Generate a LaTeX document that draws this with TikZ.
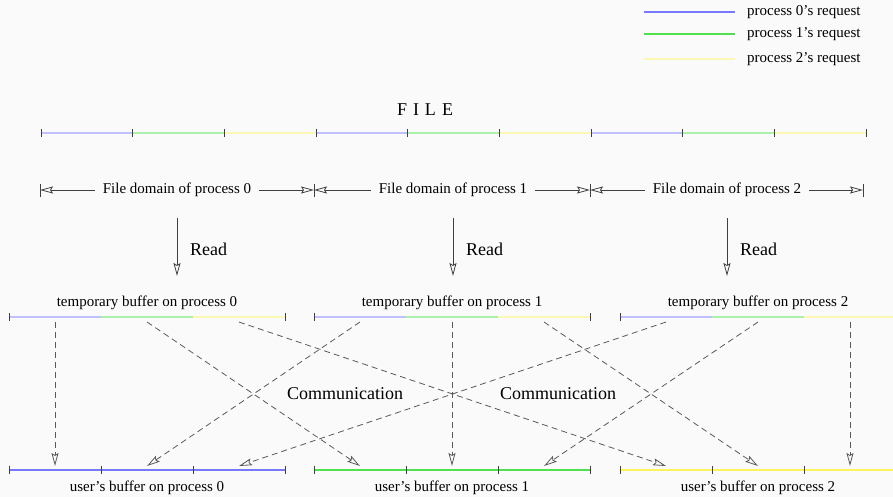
\documentclass[tikz,border=0pt]{standalone}
\usepackage{fontspec}
\setmainfont{Liberation Serif}
\usetikzlibrary{arrows.meta, positioning, calc}
\definecolor{reqzero}{RGB}{120,120,255}
\definecolor{reqone}{RGB}{80,225,80}
\definecolor{reqtwo}{RGB}{250,245,90}
\definecolor{paper}{RGB}{250,250,250}
\tikzstyle{txt} = [font=\fontsize{15}{18}\selectfont, inner sep=0pt]
\tikzstyle{big} = [font=\fontsize{18}{21}\selectfont, inner sep=0pt]
\tikzstyle{seg} = [line width=1.2pt]
\tikzstyle{tick} = [draw=black!75, line width=0.8pt]
\tikzstyle{line} = [draw=black!75, line width=0.8pt, -{Stealth[open,inset=2pt,length=13pt,width=7pt]}]
\tikzstyle{comm} = [line, draw=black!65, dash pattern=on 6pt off 4pt]

\begin{document}
\begin{tikzpicture}[x=1pt, y=-1pt]
    \fill[paper] (0,0) rectangle (893,497);
    \useasboundingbox (0,0) rectangle (893,497);
    %%% Legend:
    \foreach \c/\y/\n in {reqzero/12/0, reqone/34/1, reqtwo!45!paper/59/2} {
      \coordinate (lg\n) at (644,\y);
      \draw[seg, \c] (lg\n) -- ++(91,0);
      \node[txt, anchor=west] (lgt\n) at (747,\y) {process \n's request};
    }
    %%% File:
    \node[big] (file) at (425,110) {F\hspace{6pt}I\hspace{6pt}L\hspace{6pt}E};
    \foreach \i/\c in {0/reqzero,1/reqone,2/reqtwo,3/reqzero,4/reqone,5/reqtwo,6/reqzero,7/reqone,8/reqtwo}
      \draw[seg, \c!45!paper] ({41+\i*91.667},133) -- ++(91.667,0);
    \foreach \i in {0,...,9}
      \draw[tick] ({41+\i*91.667},129) -- ++(0,8);
    %%% File domains:
    \foreach \i/\x in {0/40, 1/314, 2/590, 3/863} {
      \coordinate (bar\i) at (\x,190);
      \draw[tick] (\x,184) -- (\x,197);
    }
    \node[txt, inner xsep=8pt] (dom0) at (177,190) {File domain of process 0};
    \node[txt, inner xsep=8pt] (dom1) at (453,190) {File domain of process 1};
    \node[txt, inner xsep=8pt] (dom2) at (727,190) {File domain of process 2};
    \draw[line] (dom0) -- (bar0); \draw[line] (dom0) -- (bar1);
    \draw[line] (dom1) -- (bar1); \draw[line] (dom1) -- (bar2);
    \draw[line] (dom2) -- (bar2); \draw[line] (dom2) -- (bar3);
    %%% Read:
    \foreach \n/\x in {0/177, 1/453, 2/727} {
      \coordinate (rdtop\n) at (\x,218);
      \coordinate (rdbot\n) at (\x,276);
      \draw[line] (rdtop\n) -- (rdbot\n);
      \node[big, anchor=west] (read\n) at (\x+13,249) {Read};
    }
    %%% Temporary buffers:
    \foreach \n/\s in {0/9, 1/314, 2/620} {
      \draw[seg, reqzero!45!paper] (\s,317) -- ++(92,0);
      \draw[seg, reqone!45!paper] (\s+92,317) -- ++(92,0);
      \draw[seg, reqtwo!45!paper] (\s+184,317) -- ++(92,0);
      \draw[tick] (\s,313) -- ++(0,8); \draw[tick] (\s+276,313) -- ++(0,8);
      \node[txt] (tmp\n) at (\s+138,303) {temporary buffer on process \n};
      \foreach \j in {0,1,2} \coordinate (t\n-\j) at ({\s+46+\j*92},322);
    }
    %%% User buffers:
    \foreach \n/\s/\c in {0/9/reqzero, 1/314/reqone, 2/620/reqtwo} {
      \draw[seg, \c] (\s,470) -- ++(276,0);
      \foreach \k in {0,...,3} \draw[tick] ({\s+\k*92},466) -- ++(0,8);
      \node[txt] (usr\n) at (\s+138,488) {user's buffer on process \n};
      \foreach \j in {0,1,2} \coordinate (u\n-\j) at ({\s+46+\j*92},466);
    }
    %%% Communication:
    \foreach \i in {0,1,2}
      \foreach \j in {0,1,2}
        \draw[comm] (t\i-\j) -- (u\j-\i);
    \node[big] (comm0) at (345,394) {Communication};
    \node[big] (comm1) at (558,394) {Communication};
\end{tikzpicture}
\end{document}
